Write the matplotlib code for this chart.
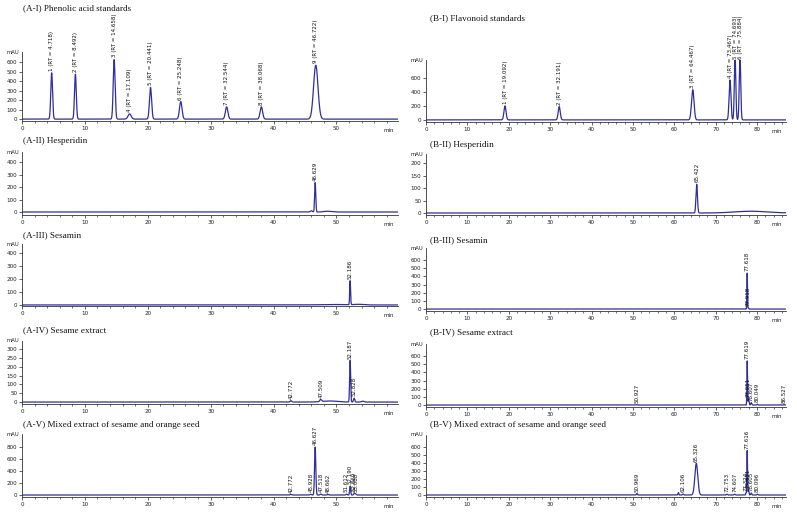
import numpy as np
import matplotlib
matplotlib.use('Agg')
import matplotlib.pyplot as plt
from matplotlib.ticker import MultipleLocator

# ---------------- data (peaks) ----------------
a1_title = "(A-I) Phenolic acid standards"
a1_rt = [4.718, 8.492, 14.658, 17.109, 20.441, 25.248, 32.544, 38.068, 46.722]
a1_h = [490, 475, 630, 55, 335, 185, 130, 130, 570]
a1_w = [0.14, 0.14, 0.15, 0.25, 0.17, 0.2, 0.2, 0.2, 0.35]
a1_lbl = ["1 (RT = 4.718)", "2 (RT = 8.492)", "3 (RT = 14.658)", "4 (RT = 17.109)",
          "5 (RT = 20.441)", "6 (RT = 25.248)", "7 (RT = 32.544)", "8 (RT = 38.068)",
          "9 (RT = 46.722)"]
a1_yt = [0, 100, 200, 300, 400, 500, 600]

b1_title = "(B-I) Flavonoid standards"
b1_rt = [19.092, 32.191, 64.467, 73.467, 74.693, 75.884]
b1_h = [200, 190, 430, 570, 900, 900]
b1_w = [0.25, 0.25, 0.3, 0.22, 0.18, 0.18]
b1_lbl = ["1 (RT = 19.092)", "2 (RT = 32.191)", "3 (RT = 64.467)", "4 (RT = 73.467)",
          "5 (RT = 74.693)", "6 (RT = 75.884)"]
b1_yt = [0, 200, 400, 600]

a2_title = "(A-II) Hesperidin"
a2_rt = [46.0, 46.629, 48.6]
a2_h = [10, 235, 6]
a2_w = [0.15, 0.09, 0.6]
a2_lbl = ["", "46.629", ""]
a2_yt = [0, 100, 200, 300, 400]

b2_title = "(B-II) Hesperidin"
b2_rt = [65.422, 78.5]
b2_h = [115, 7]
b2_w = [0.18, 4.0]
b2_lbl = ["65.422", ""]
b2_yt = [0, 50, 100, 150, 200]

a3_title = "(A-III) Sesamin"
a3_rt = [49.0, 52.186, 53.5]
a3_h = [4, 185, 5]
a3_w = [1.8, 0.07, 0.8]
a3_lbl = ["", "52.186", ""]
a3_yt = [0, 100, 200, 300, 400]

b3_title = "(B-III) Sesamin"
b3_rt = [77.618, 77.918]
b3_h = [440, 12]
b3_w = [0.07, 0.1]
b3_lbl = ["77.618", "77.918"]
b3_yt = [0, 100, 200, 300, 400, 500, 600]

a4_title = "(A-IV) Sesame extract"
a4_rt = [42.772, 47.509, 49.0, 52.187, 52.828, 54.2]
a4_h = [8, 12, 6, 235, 22, 5]
a4_w = [0.12, 0.15, 1.2, 0.08, 0.1, 0.2]
a4_lbl = ["42.772", "47.509", "", "52.187", "52.828", ""]
a4_yt = [0, 50, 100, 150, 200, 250, 300]

b4_title = "(B-IV) Sesame extract"
b4_rt = [50.927, 77.619, 77.951, 78.607, 80.049, 86.527]
b4_h = [5, 540, 70, 30, 10, 6]
b4_w = [0.1, 0.07, 0.12, 0.12, 0.1, 0.1]
b4_lbl = ["50.927", "77.619", "77.951", "78.607", "80.049", "86.527"]
b4_yt = [0, 100, 200, 300, 400, 500, 600]

a5_title = "(A-V) Mixed extract of sesame and orange seed"
a5_rt = [42.772, 45.928, 46.627, 47.518, 48.662, 51.612, 52.190, 52.869, 53.088]
a5_h = [10, 12, 800, 15, 10, 15, 150, 30, 15]
a5_w = [0.12, 0.1, 0.1, 0.12, 0.12, 0.1, 0.08, 0.1, 0.1]
a5_lbl = ["42.772", "45.928", "46.627", "47.518", "48.662", "51.612", "52.190",
          "52.869", "53.088"]
a5_yt = [0, 200, 400, 600, 800]

b5_title = "(B-V) Mixed extract of sesame and orange seed"
b5_rt = [50.969, 61.0, 62.106, 65.326, 72.753, 74.607, 77.324, 77.616, 77.951, 78.605, 80.096]
b5_h = [20, 30, 12, 395, 10, 10, 25, 555, 60, 25, 10]
b5_w = [0.12, 0.1, 0.12, 0.35, 0.12, 0.12, 0.08, 0.08, 0.1, 0.12, 0.12]
b5_lbl = ["50.969", "", "62.106", "65.326", "72.753", "74.607", "77.324", "77.616",
          "77.951", "78.605", "80.096"]
b5_yt = [0, 100, 200, 300, 400, 500, 600]

# ---------------- figure ----------------
W, H = 797, 514
fig = plt.figure(figsize=(W / 100, H / 100), dpi=100)
LINE = '#2f2f9c'


def make_ax(left, top, right, bottom):
    return fig.add_axes([left / W, 1 - bottom / H, (right - left) / W, (bottom - top) / H])


def panel(box, title, tpos, rt, h, w, lbl, xmax, ylim, yt, lblsize=4.0):
    ax = make_ax(*box)
    x = np.linspace(0, xmax, 8000)
    y = np.zeros_like(x)
    for r, hh, ww in zip(rt, h, w):
        y += hh * np.exp(-0.5 * ((x - r) / ww) ** 2)
    ax.plot(x, y, color=LINE, lw=0.9, solid_joinstyle='round')
    ax.set_xlim(0, xmax)
    ax.set_ylim(*ylim)
    ax.xaxis.set_major_locator(MultipleLocator(10))
    ax.xaxis.set_minor_locator(MultipleLocator(2))
    ax.set_yticks(yt)
    for s in ['top', 'right']:
        ax.spines[s].set_visible(False)
    for s in ['left', 'bottom']:
        ax.spines[s].set_linewidth(0.6)
        ax.spines[s].set_color('#333333')
    ax.tick_params(axis='both', which='major', direction='out', length=2.2, width=0.5,
                   labelsize=4.1, pad=1.2, colors='#222222')
    ax.tick_params(axis='x', which='minor', direction='out', length=1.3, width=0.4)
    ax.patch.set_alpha(0)
    top = ylim[1]
    for r, hh, t in zip(rt, h, lbl):
        if not t:
            continue
        yy = min(hh, top * 0.98) + (ylim[1] - ylim[0]) * 0.03
        ax.text(r, yy, t, rotation=90, ha='center', va='bottom', fontsize=lblsize,
                color='#111111', clip_on=False)
    ax.annotate('mAU', xy=(0, 1), xycoords='axes fraction', xytext=(-2, 0),
                textcoords='offset points', ha='right', va='center', fontsize=3.8,
                color='#222222')
    ax.annotate('min', xy=(1, 0), xycoords='axes fraction', xytext=(-3, -5),
                textcoords='offset points', ha='right', va='top', fontsize=4.0,
                color='#222222')
    fig.text(tpos[0] / W, 1 - tpos[1] / H, title, fontsize=6.6, family='Liberation Serif',
             ha='left', va='center', color='#111111')
    return ax


LX0, LX1 = 22, 398
RX0, RX1 = 426, 786

panel((LX0, 52, LX1, 121), a1_title, (23, 8), a1_rt, a1_h, a1_w, a1_lbl, 59.8, (-20, 710), a1_yt)
panel((RX0, 60, RX1, 122), b1_title, (430, 18), b1_rt, b1_h, b1_w, b1_lbl, 87, (-30, 855), b1_yt)
panel((LX0, 152, LX1, 215), a2_title, (23, 141), a2_rt, a2_h, a2_w, a2_lbl, 59.8, (-24, 480), a2_yt)
panel((RX0, 154, RX1, 215), b2_title, (430, 145), b2_rt, b2_h, b2_w, b2_lbl, 87, (-8, 236), b2_yt)
panel((LX0, 244, LX1, 306), a3_title, (23, 235), a3_rt, a3_h, a3_w, a3_lbl, 59.8, (-8, 469), a3_yt)
panel((RX0, 248, RX1, 311), b3_title, (430, 240), b3_rt, b3_h, b3_w, b3_lbl, 87, (-24, 747), b3_yt)
panel((LX0, 341, LX1, 404), a4_title, (23, 330), a4_rt, a4_h, a4_w, a4_lbl, 59.8, (-11, 345), a4_yt)
panel((RX0, 344, RX1, 407), b4_title, (430, 332), b4_rt, b4_h, b4_w, b4_lbl, 87, (-24, 747), b4_yt)
panel((LX0, 434, LX1, 497), a5_title, (23, 425), a5_rt, a5_h, a5_w, a5_lbl, 59.8, (-33, 1017), a5_yt)
panel((RX0, 435, RX1, 497), b5_title, (430, 425), b5_rt, b5_h, b5_w, b5_lbl, 87, (-25, 750), b5_yt)

fig.savefig('out.png', dpi=100, facecolor='white')
